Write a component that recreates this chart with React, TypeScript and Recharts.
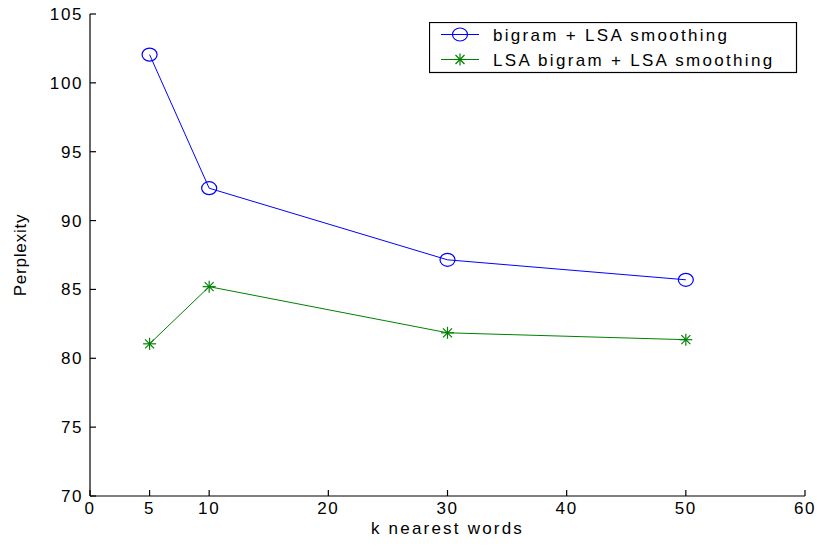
import { Legend, Line, LineChart, XAxis, YAxis } from "recharts";

const kValues = [5, 10, 30, 50];
const bigramLsa = [102.05, 92.35, 87.15, 85.7];
const lsaBigramLsa = [81.05, 85.2, 81.85, 81.35];
const xTicks = [0, 5, 10, 20, 30, 40, 50, 60];
const yTicks = [70, 75, 80, 85, 90, 95, 100, 105];
const seriesNames = ["bigram + LSA smoothing", "LSA bigram + LSA smoothing"];

const BLUE = "#0000ff";
const GREEN = "#008000";
const FONT = "'Liberation Sans', Arial, sans-serif";
const AXIS_STROKE = { stroke: "#000", strokeWidth: 1.2 };
const TICK_STYLE = { fill: "#000", fontSize: 17, fontFamily: FONT, letterSpacing: 1.6 };

const data = kValues.map((k, i) => ({
  k,
  bigram: bigramLsa[i],
  lsaBigram: lsaBigramLsa[i],
}));

function CircleMark({ cx, cy, color }: { cx: number; cy: number; color: string }) {
  return <ellipse cx={cx} cy={cy} rx={7.5} ry={6.5} fill="none" stroke={color} strokeWidth={1.2} />;
}

function StarMark({ cx, cy, color }: { cx: number; cy: number; color: string }) {
  const d = 4.5;
  return (
    <g stroke={color} strokeWidth={1.2}>
      <line x1={cx - 6.5} y1={cy} x2={cx + 6.5} y2={cy} />
      <line x1={cx} y1={cy - 6} x2={cx} y2={cy + 6} />
      <line x1={cx - d} y1={cy - d} x2={cx + d} y2={cy + d} />
      <line x1={cx - d} y1={cy + d} x2={cx + d} y2={cy - d} />
    </g>
  );
}

function LegendBox() {
  const rows = [
    { y: 12.5, color: BLUE, star: false },
    { y: 37.5, color: GREEN, star: true },
  ];
  return (
    <svg width={369} height={52} style={{ display: "block" }}>
      <rect x={0.5} y={0.5} width={367} height={50} fill="#fff" stroke="#000" strokeWidth={1.2} />
      {rows.map((r, i) => (
        <g key={i}>
          <line x1={12} y1={r.y} x2={50} y2={r.y} stroke={r.color} strokeWidth={1} />
          {r.star ? (
            <StarMark cx={31} cy={r.y} color={r.color} />
          ) : (
            <CircleMark cx={31} cy={r.y} color={r.color} />
          )}
          <text
            x={64}
            y={r.y + 6}
            fill="#000"
            fontSize={17}
            fontFamily={FONT}
            letterSpacing={2.3}
          >
            {seriesNames[i]}
          </text>
        </g>
      ))}
    </svg>
  );
}

export default function App() {
  return (
    <div style={{ width: 817, height: 546 }}>
      <style>{"body{margin:0}"}</style>
      <LineChart
        width={817}
        height={546}
        data={data}
        margin={{ top: 14, right: 12, bottom: 0, left: 0 }}
        style={{ background: "#fff" }}
      >
        <XAxis
          dataKey="k"
          type="number"
          domain={[0, 60]}
          ticks={xTicks}
          height={50}
          axisLine={AXIS_STROKE}
          tickLine={AXIS_STROKE}
          tickSize={-6}
          tickMargin={12}
          tick={TICK_STYLE}
          interval={0}
          label={{
            value: "k nearest words",
            position: "insideBottom",
            offset: 12,
            fill: "#000",
            fontSize: 17,
            fontFamily: FONT,
            letterSpacing: 2.2,
          }}
        />
        <XAxis
          xAxisId="top"
          orientation="top"
          type="number"
          domain={[0, 60]}
          ticks={xTicks}
          height={0}
          axisLine={AXIS_STROKE}
          tickLine={AXIS_STROKE}
          tickSize={-6}
          tickFormatter={() => ""}
          interval={0}
        />
        <YAxis
          type="number"
          domain={[70, 105]}
          ticks={yTicks}
          width={90}
          axisLine={AXIS_STROKE}
          tickLine={AXIS_STROKE}
          tickSize={-6}
          tickMargin={13}
          tick={TICK_STYLE}
          interval={0}
          label={{
            value: "Perplexity",
            angle: -90,
            position: "insideLeft",
            offset: 20,
            fill: "#000",
            fontSize: 17,
            fontFamily: FONT,
            letterSpacing: 0.8,
            style: { textAnchor: "middle" },
          }}
        />
        <YAxis
          yAxisId="right"
          orientation="right"
          type="number"
          domain={[70, 105]}
          ticks={yTicks}
          width={0}
          axisLine={AXIS_STROKE}
          tickLine={AXIS_STROKE}
          tickSize={-6}
          tickFormatter={() => ""}
          interval={0}
        />
        <Legend
          layout="horizontal"
          verticalAlign="middle"
          align="center"
          wrapperStyle={{ left: 429, top: 22, width: 369 }}
          content={() => <LegendBox />}
        />
        <Line
          dataKey="bigram"
          stroke={BLUE}
          strokeWidth={1}
          isAnimationActive={false}
          dot={(p: any) => <CircleMark key={p.index} cx={p.cx} cy={p.cy} color={BLUE} />}
        />
        <Line
          dataKey="lsaBigram"
          stroke={GREEN}
          strokeWidth={1}
          isAnimationActive={false}
          dot={(p: any) => <StarMark key={p.index} cx={p.cx} cy={p.cy} color={GREEN} />}
        />
      </LineChart>
    </div>
  );
}
